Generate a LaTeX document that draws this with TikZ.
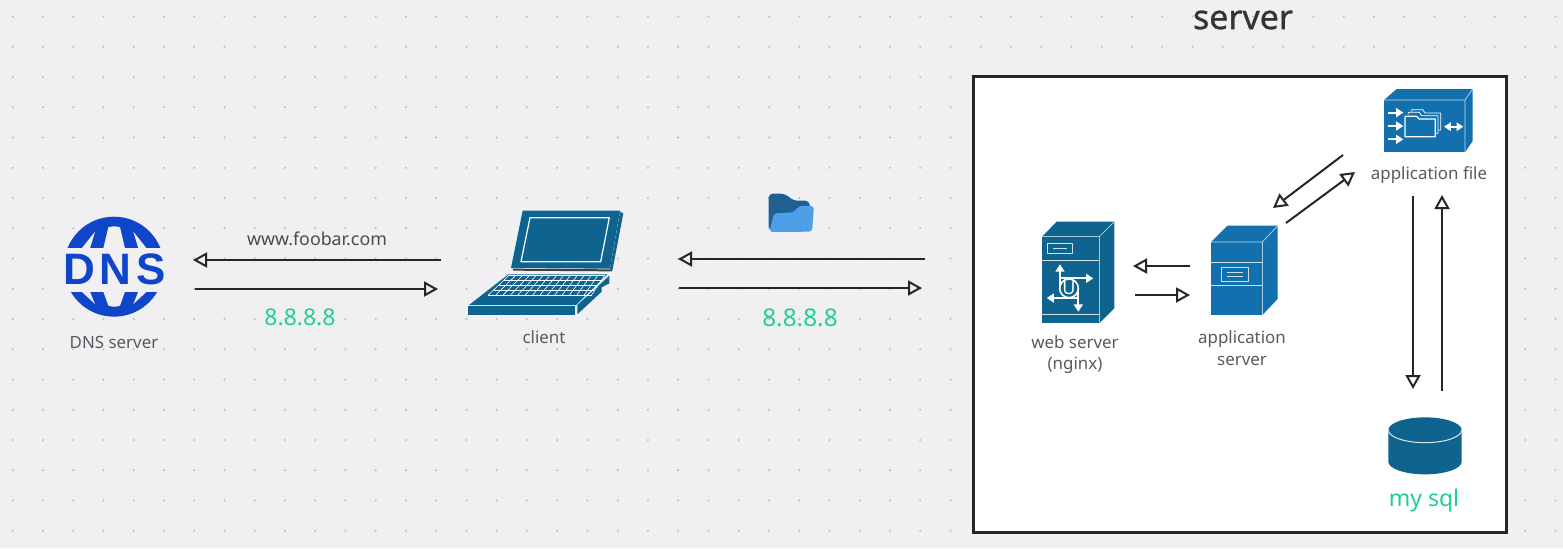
\documentclass[tikz,border=0pt]{standalone}
\usepackage{fontspec}
\setmainfont{Noto Sans}
\newfontfamily\dnsfont{Liberation Sans}[Scale=1]
\usetikzlibrary{arrows.meta}
\definecolor{bgc}{HTML}{F0F0F3}
\definecolor{dotc}{HTML}{BEBEC4}
\definecolor{dnsblue}{HTML}{0F45C8}
\definecolor{teal}{HTML}{0F648F}
\definecolor{appblue}{HTML}{1270AE}
\definecolor{lab}{HTML}{5A5A5E}
\definecolor{grn}{HTML}{1FCF93}
\definecolor{folddark}{HTML}{205F92}
\definecolor{foldlight}{HTML}{4D9FE8}
\tikzset{
  flow/.style={draw=black!85,line width=1pt,-{Triangle[open,length=7pt,width=7.5pt,line width=1pt]}},
  lbl/.style={text=lab,font=\fontsize{8.45}{10.8}\selectfont,align=center,inner sep=0pt},
  ipl/.style={text=grn,font=\fontsize{11.5}{14}\selectfont,inner sep=0pt},
  wl/.style={draw=white,line width=.6pt,line join=round},
  wt/.style={draw=white,line width=.3pt},
  warr/.style={draw=white,line width=.9pt,-{Triangle[length=3.6pt,width=4.4pt]}},
  hl/.style={draw=white!80!teal,line width=.3pt,line join=round},
}
\begin{document}
\begin{tikzpicture}[x=0.5pt,y=-0.5pt]
\useasboundingbox (0,0) rectangle (1563,548);
\fill[bgc] (0,0) rectangle (1563,548);
% dot grid
\foreach \i in {0,...,51}{\foreach \j in {0,...,17}{
  \fill[dotc] ({12.7+30.25*\i},{16.5+30.25*\j}) circle[radius=.6pt];
}}
% server box
\node[draw=black!85,fill=white,line width=1.6pt,minimum width=266.5pt,minimum height=228pt,inner sep=0pt,anchor=north west] (box) at (972,75) {};
\node[inner sep=0pt,text=black!80,font=\fontsize{17}{20}\selectfont\addfontfeature{FakeBold=0.8}] (title) at (1243,20) {server};

% DNS icon
\begin{scope}[shift={(40,190)},scale=1/3]
  \fill[dnsblue] (222,230) circle[radius=75pt];
  \fill[bgc] (60,175) rectangle (385,305);
  \fill[bgc] (125,175) -- (165,125) -- (150,175) -- cycle;
  \fill[bgc] (190,175) -- (205,112) .. controls (215,108) and (230,108) .. (240,112) -- (255,175) -- cycle;
  \fill[bgc] (280,125) -- (320,175) -- (295,175) -- cycle;
  \fill[bgc] (125,305) -- (165,342) -- (150,305) -- cycle;
  \fill[bgc] (190,305) -- (205,347) .. controls (215,351) and (230,351) .. (240,347) -- (255,305) -- cycle;
  \fill[bgc] (280,342) -- (320,305) -- (295,305) -- cycle;
  \node[inner sep=0pt,text=dnsblue,font=\dnsfont\bfseries\fontsize{22}{24}\selectfont] (dnsicon) at (224,238) {D\hspace{2.4pt}N\hspace{2.4pt}S};
\end{scope}
\node[lbl] (dnslabel) at (114,342) {DNS server};

% laptop
\begin{scope}[shift={(450,180)},scale=1/3]
  \fill[teal] (510,95) -- (520,100) -- (487,272) -- (480,268) -- cycle;
  \fill[black!75] (188,266) -- (482,268) -- (487,274) -- (190,272) -- cycle;
  \fill[teal] (218,92) -- (510,92) -- (480,266) -- (183,264) -- cycle;
  \draw[wl] (240,113) -- (478,113) -- (452,245) -- (213,245) -- cycle;
  \fill[teal] (175,283) -- (472,283) -- (378,375) -- (57,375) -- cycle;
  \fill[teal] (382,375) -- (478,287) -- (478,310) -- (455,322) -- (455,335) -- (382,403) -- cycle;
  \fill[teal] (55,377) -- (376,377) -- (376,405) -- (55,405) -- cycle;
  \foreach \t in {0,.25,.5,.75,1}{
    \draw[wt] ({178-63*\t},{285+60*\t}) -- ({465-40*\t},{285+60*\t});
  }
  \foreach \t in {0,.0714,...,1.01}{
    \draw[wt] ({178+287*\t},285) -- ({115+310*\t},345);
  }
  \coordinate (clienticon) at (290,250);
\end{scope}
\node[lbl] (clientlabel) at (544,337) {client};

% folder
\begin{scope}[shift={(450,180)},scale=1/3]
  \fill[folddark,rounded corners=2pt] (956,150) -- (956,41) -- (1005,41) -- (1030,62) -- (1078,62) -- (1085,140) -- cycle;
  \fill[foldlight,rounded corners=1.6pt] (958,156) -- (972,100) -- (1030,97) -- (1047,78) -- (1092,78) -- (1086,155) -- cycle;
  \coordinate (foldericon) at (1024,100);
\end{scope}

% web server
\begin{scope}[shift={(1020,210)},scale=1/3]
  \fill[teal] (66,80) -- (110,35) -- (283,35) -- (238,80) -- cycle;
  \fill[teal] (238,80) -- (283,35) -- (283,295) -- (238,340) -- cycle;
  \fill[teal] (66,80) rectangle (238,340);
  \draw[hl] (66,80) -- (238,80) -- (283,35) (238,80) -- (238,340);
  \draw[hl] (66,152) -- (238,152) (66,312) -- (238,312);
  \draw[hl] (83,100) rectangle (157,130) (100,115) -- (140,115);
  \draw[warr] (120,235) -- (120,163);
  \draw[warr] (120,205) -- (220,205);
  \draw[warr] (175,264) -- (80,264);
  \draw[warr] (175,235) -- (175,305);
  \fill[teal] (147,235) circle[radius=14.5pt];
  \draw[white,line width=.8pt] (147,235) circle[radius=14pt];
  \node[inner sep=0pt,text=white,font=\bfseries\fontsize{9}{9}\selectfont] (webicon) at (147,235) {U};
\end{scope}
\node[lbl] (weblabel) at (1075,354.5) {web server\\(nginx)};

% application server
\begin{scope}[shift={(1020,210)},scale=1/3]
  \fill[appblue] (573,96) -- (622,47) -- (773,47) -- (727,96) -- cycle;
  \fill[appblue] (727,96) -- (773,47) -- (773,267) -- (727,315) -- cycle;
  \fill[appblue] (573,96) rectangle (727,315);
  \draw[hl] (573,96) -- (727,96) -- (773,47) (727,96) -- (727,315);
  \draw[hl] (573,157) -- (727,157) (573,227) -- (727,227);
  \draw[hl] (605,172) rectangle (686,214) (622,186) -- (668,186) (622,199) -- (668,199);
  \coordinate (appicon) at (650,180);
\end{scope}
\node[lbl] (applabel) at (1242,348) {application\\server};

% application file
\begin{scope}[shift={(1270,75)},scale=1/3]
  \fill[appblue] (342,75) -- (380,42) -- (608,42) -- (585,75) -- cycle;
  \fill[appblue] (585,75) -- (608,42) -- (608,198) -- (585,232) -- cycle;
  \fill[appblue] (342,75) rectangle (585,232);
  \draw[hl] (342,75) -- (585,75) -- (608,42) (585,75) -- (585,232);
  \foreach \yy in {113,153,193}{\draw[warr] (355,\yy) -- (400,\yy);}
  \draw[white,line width=.9pt,{Triangle[length=3.4pt,width=4.2pt]}-{Triangle[length=3.4pt,width=4.2pt]}] (522,155) -- (580,155);
  \draw[wl,line width=.4pt] (425,110) -- (425,104) -- (458,104) -- (465,114) -- (512,114) -- (512,165) -- (505,165);
  \draw[wl,line width=.4pt] (415,118) -- (415,112) -- (448,112) -- (455,122) -- (504,122) -- (504,175) -- (497,175);
  \draw[wl,fill=appblue] (405,185) -- (405,124) -- (440,124) -- (447,132) -- (496,132) -- (496,185) -- cycle;
  \coordinate (fileicon) at (475,137);
\end{scope}
\node[lbl] (filelabel) at (1429,175) {application file};

% mysql
\begin{scope}[shift={(1370,370)},scale=1/3]
  \fill[teal] (55,180) -- (55,275) arc[start angle=180,end angle=360,x radius=55pt,y radius=19pt] -- (275,180) arc[start angle=0,end angle=180,x radius=55pt,y radius=19pt] -- cycle;
  \draw[white!85!teal,line width=.5pt] (55,180) arc[start angle=180,end angle=360,x radius=55pt,y radius=19pt];
  \coordinate (sqlicon) at (165,228);
\end{scope}
\node[ipl] (sqllabel) at (1424,501) {my sql};

% labels
\node[lbl,font=\fontsize{8.9}{11}\selectfont,text=black!70] (url) at (317,239) {www.foobar.com};
\node[ipl] (ipa) at (300,317) {8.8.8.8};
\node[ipl,font=\fontsize{12.2}{14}\selectfont] (ipb) at (800,318) {8.8.8.8};

% connector ends
\coordinate (a1) at (441,260); \coordinate (a2) at (193,260);
\coordinate (b1) at (195,289); \coordinate (b2) at (438,289);
\coordinate (c1) at (925,259); \coordinate (c2) at (678,259);
\coordinate (d1) at (679,288); \coordinate (d2) at (922,288);
\coordinate (e1) at (1190,266); \coordinate (e2) at (1133,266);
\coordinate (f1) at (1135,295); \coordinate (f2) at (1190,295);
\coordinate (g1) at (1343,155); \coordinate (g2) at (1273,208);
\coordinate (h1) at (1286,223); \coordinate (h2) at (1355,172);
\coordinate (i1) at (1413,196); \coordinate (i2) at (1413,389);
\coordinate (j1) at (1442,391); \coordinate (j2) at (1442,195);
\foreach \s/\t in {a1/a2,b1/b2,c1/c2,d1/d2,e1/e2,f1/f2,g1/g2,h1/h2,i1/i2,j1/j2}{
  \draw[flow] (\s) -- (\t);
}
\end{tikzpicture}
\end{document}
